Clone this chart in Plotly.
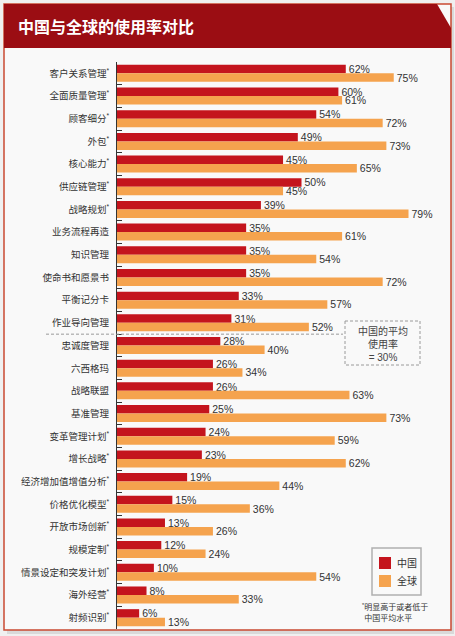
import plotly.graph_objects as go

# usage rates, China vs global (%)
categories = ['客户关系管理', '全面质量管理', '顾客细分', '外包', '核心能力', '供应链管理',
              '战略规划', '业务流程再造', '知识管理', '使命书和愿景书', '平衡记分卡',
              '作业导向管理', '忠诚度管理', '六西格玛', '战略联盟', '基准管理',
              '变革管理计划', '增长战略', '经济增加值增值分析', '价格优化模型',
              '开放市场创新', '规模定制', '情景设定和突发计划', '海外经营', '射频识别']
significant = [True, True, True, True, True, True, True, False, False, False, False,
               False, False, False, False, False, True, True, True, True, True, True,
               True, True, True]
china = [62, 60, 54, 49, 45, 50, 39, 35, 35, 35, 33, 31, 28, 26, 26, 25, 24, 23,
         19, 15, 13, 12, 10, 8, 6]
world = [75, 61, 72, 73, 65, 45, 79, 61, 54, 72, 57, 52, 40, 34, 63, 73, 59, 62,
         44, 36, 26, 24, 54, 33, 13]
series_names = ['中国', '全球']
china_avg = 30

tick_text = [c + ('<sup>*</sup>' if s else '') for c, s in zip(categories, significant)]

RED = '#c4141d'
ORANGE = '#f5a34e'
DARK_RED = '#9b0d13'
FONT = 'Arial, Noto Sans CJK SC'

W, H = 455, 636
L, R, T, B = 117, 420, 62, 629
pw, ph = R - L, B - T


def px(x):
    return (x - L) / pw


def py(y):
    return (B - y) / ph


fig = go.Figure()
for name, vals, col in [(series_names[0], china, RED), (series_names[1], world, ORANGE)]:
    fig.add_trace(go.Bar(
        y=categories, x=vals, name=name, orientation='h',
        marker=dict(color=col, line=dict(width=0)),
        text=[f'{v}%' for v in vals], textposition='outside',
        textfont=dict(family='Arial', size=10.5, color='#333333'),
        constraintext='none', cliponaxis=False,
    ))

shapes = [
    # shadow + card
    dict(type='rect', xref='paper', yref='paper', x0=px(7), x1=px(454), y0=py(7), y1=py(634),
         fillcolor='#d9d9d9', line=dict(width=0), layer='below'),
    dict(type='rect', xref='paper', yref='paper', x0=px(4), x1=px(451), y0=py(4), y1=py(630),
         fillcolor='#f9f9f9', line=dict(color='#c94a32', width=1.5), layer='below'),
    # title bar with cut corner
    dict(type='path', xref='paper', yref='paper',
         path=f'M {px(4)},{py(4)} L {px(437)},{py(4)} L {px(451)},{py(28)} '
              f'L {px(451)},{py(48)} L {px(4)},{py(48)} Z',
         fillcolor=DARK_RED, line=dict(width=0), layer='below'),
    # separator between rows above/below average
    dict(type='line', xref='paper', yref='y', x0=px(46), x1=px(343), y0=11.5, y1=11.5,
         line=dict(color='#9a9a9a', width=1, dash='3px,2px')),
    # dashed box around average note
    dict(type='rect', xref='paper', yref='paper', x0=px(345), x1=px(420), y0=py(321), y1=py(365),
         line=dict(color='#9a9a9a', width=1, dash='3px,2px')),
    # legend box
    dict(type='rect', xref='paper', yref='paper', x0=px(372), x1=px(421), y0=py(548), y1=py(595),
         fillcolor='#f9f9f9', line=dict(color='#b0b0b0', width=1.5)),
    dict(type='rect', xref='paper', yref='paper', x0=px(379), x1=px(391), y0=py(557), y1=py(569),
         fillcolor=RED, line=dict(width=0)),
    dict(type='rect', xref='paper', yref='paper', x0=px(379), x1=px(391), y0=py(575), y1=py(587),
         fillcolor=ORANGE, line=dict(width=0)),
]

annotations = [
    dict(text='<b>中国与全球的使用率对比</b>', xref='paper', yref='paper', x=px(16), y=py(27),
         xanchor='left', yanchor='middle', showarrow=False,
         font=dict(family=FONT, size=16, color='white')),
    dict(text=f'中国的平均<br>使用率<br>= {china_avg}%', xref='paper', yref='paper',
         x=px(382.5), y=py(343.5), xanchor='center', yanchor='middle', showarrow=False,
         font=dict(family=FONT, size=10, color='#444444')),
    dict(text=series_names[0], xref='paper', yref='paper', x=px(395), y=py(563),
         xanchor='left', yanchor='middle', showarrow=False,
         font=dict(family=FONT, size=10, color='#333333')),
    dict(text=series_names[1], xref='paper', yref='paper', x=px(395), y=py(581),
         xanchor='left', yanchor='middle', showarrow=False,
         font=dict(family=FONT, size=10, color='#333333')),
    dict(text='<sup>*</sup>明显高于或者低于<br> 中国平均水平', xref='paper', yref='paper',
         x=px(360), y=py(600), xanchor='left', yanchor='top', align='left', showarrow=False,
         font=dict(family=FONT, size=8, color='#333333')),
]

fig.update_layout(
    template='none',
    width=W, height=H,
    margin=dict(l=L, r=W - R, t=T, b=H - B),
    paper_bgcolor='#f0f0f0', plot_bgcolor='rgba(0,0,0,0)',
    barmode='group', bargap=0.25, bargroupgap=0,
    showlegend=False,
    xaxis=dict(range=[0, pw / 3.69], visible=False, fixedrange=True),
    yaxis=dict(type='category', categoryorder='array', categoryarray=categories,
               autorange='reversed', tickmode='array', tickvals=categories, ticktext=tick_text,
               tickson='boundaries', ticks='inside', ticklen=5, tickcolor='#333333',
               showline=True, linecolor='#333333', linewidth=1, showgrid=False,
               automargin=False, ticklabelstandoff=5,
               tickfont=dict(family=FONT, size=9.5, color='#333333')),
    shapes=shapes, annotations=annotations,
)

fig.write_html('out.html', config={'displayModeBar': False},
               post_script="document.body.style.margin='0';document.body.style.overflow='hidden';")
